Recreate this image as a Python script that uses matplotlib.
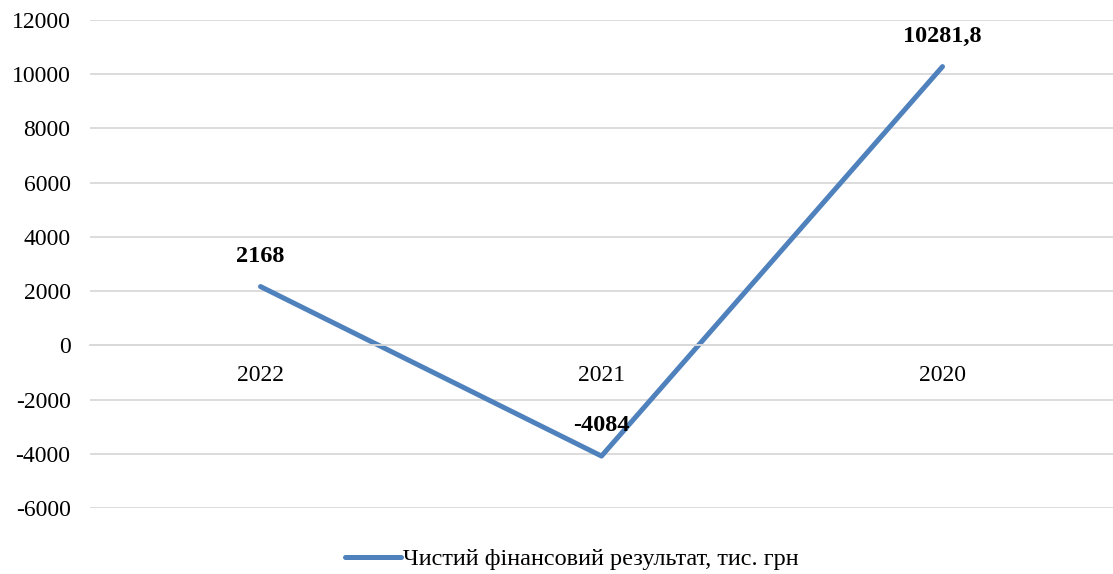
import matplotlib
matplotlib.use("Agg")
import matplotlib.pyplot as plt
from matplotlib.ticker import FixedLocator

categories = ["2022", "2021", "2020"]
values = [2168, -4084, 10281.8]
value_labels = ["2168", "-4084", "10281,8"]
yticks = [-6000, -4000, -2000, 0, 2000, 4000, 6000, 8000, 10000, 12000]
series_name = "Чистий фінансовий результат, тис. грн"

plt.rcParams['font.family'] = ['Liberation Serif', 'DejaVu Serif']

fig = plt.figure(figsize=(11.13, 5.74), dpi=100)
ax = fig.add_axes([90/1113, 1-508/574, 1-90/1113, (508-20)/574])

x = list(range(len(categories)))
ax.plot(x, values, color='#4F81BD', linewidth=3.6, solid_capstyle='round', label=series_name)

for xi, v, lab in zip(x, values, value_labels):
    ax.annotate(lab, (xi, v), xytext=(0, 22), textcoords='offset points',
                ha='center', va='center', fontsize=17.5, fontweight='bold', color='black')

ax.set_xlim(-0.5, len(categories) - 0.5)
ax.set_ylim(-6000, 12000)
ax.yaxis.set_major_locator(FixedLocator(yticks))
ax.set_yticklabels([str(t) for t in yticks])
ax.grid(axis='y', color='#d9d9d9', linewidth=1.3)
ax.set_axisbelow(True)

ax.set_xticks(x)
ax.set_xticklabels(categories)
for s in ['top', 'right', 'left']:
    ax.spines[s].set_visible(False)
ax.spines['bottom'].set_position(('data', 0))
ax.spines['bottom'].set_color('#d9d9d9')
ax.spines['bottom'].set_linewidth(1.3)
ax.tick_params(axis='x', length=0, pad=14, labelsize=17)
ax.tick_params(axis='y', length=0, pad=14, labelsize=17)

leg = fig.legend(loc='center', bbox_to_anchor=(572/1113, 1-559/574), frameon=False,
                 fontsize=17.5, handlelength=2.3, handletextpad=0.1)

fig.savefig('out.png', dpi=100)
